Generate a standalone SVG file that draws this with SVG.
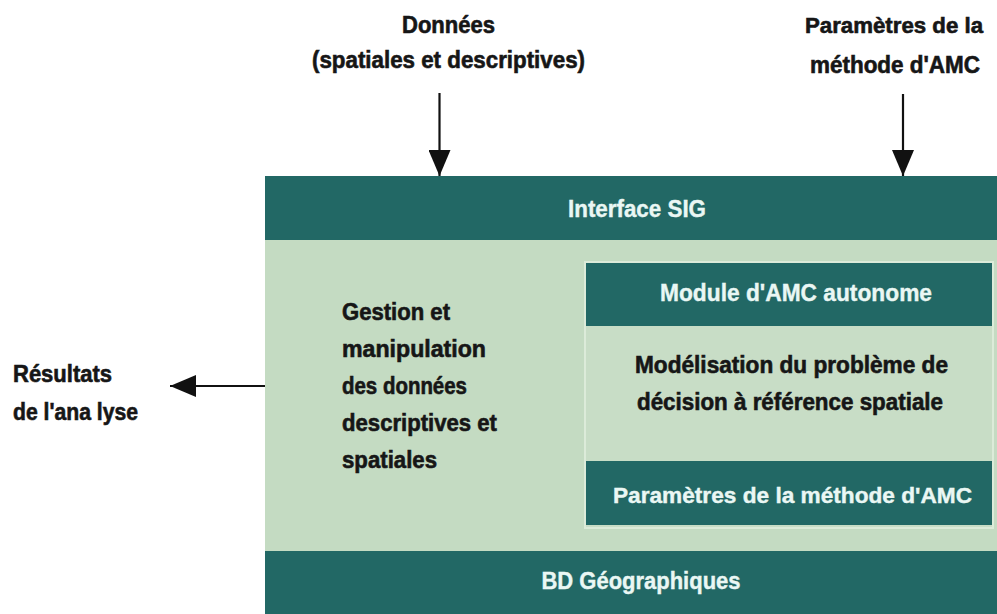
<svg xmlns="http://www.w3.org/2000/svg" width="997" height="614" viewBox="0 0 997 614">
  <style>
    .bar { fill: #226865; }
    .panel { fill: #c4dbc2; }
    .body { fill: #c8ddc6; stroke: #dcebd9; stroke-width: 2; }
    text { font-family: "Liberation Sans", Arial, sans-serif; font-weight: bold; font-size: 23px; paint-order: stroke; }
    .dark { fill: #161616; stroke: #161616; stroke-width: 0.6; }
    .light { fill: #eaf7f4; stroke: #eaf7f4; stroke-width: 0.4; font-size: 24px; }
    .tight { font-size: 22px; }
    .mid { text-anchor: middle; }
    .wire { stroke: #111; stroke-width: 2.2; fill: none; marker-end: url(#head); }
  </style>
  <defs>
    <marker id="head" viewBox="0 0 26 22" refX="26" refY="11" markerWidth="26" markerHeight="22" markerUnits="userSpaceOnUse" orient="auto">
      <path d="M0,0 L26,11 L0,22 Z" fill="#111"/>
    </marker>
  </defs>
  <rect width="997" height="614" fill="#ffffff"/>

  <!-- inputs and outputs -->
  <g id="donnees">
    <text class="dark mid" x="448.5" y="33" textLength="93" lengthAdjust="spacingAndGlyphs">Données</text>
    <text class="dark mid" x="448.5" y="68" textLength="273" lengthAdjust="spacingAndGlyphs">(spatiales et descriptives)</text>
  </g>
  <g id="parametres-entree">
    <text class="dark mid tight" x="894" y="33" textLength="178" lengthAdjust="spacingAndGlyphs">Paramètres de la</text>
    <text class="dark mid" x="895" y="73" textLength="170" lengthAdjust="spacingAndGlyphs">méthode d'AMC</text>
  </g>
  <g id="resultats">
    <text class="dark" x="13" y="382" textLength="99" lengthAdjust="spacingAndGlyphs">Résultats</text>
    <text class="dark" x="13" y="420" textLength="125" lengthAdjust="spacingAndGlyphs">de l'ana lyse</text>
  </g>

  <!-- system panel -->
  <g id="gestion">
    <rect class="panel" x="265" y="240" width="732" height="311"/>
    <text class="dark" x="342" y="320" textLength="108" lengthAdjust="spacingAndGlyphs">Gestion et</text>
    <text class="dark" x="342" y="357" textLength="144" lengthAdjust="spacingAndGlyphs">manipulation</text>
    <text class="dark" x="342" y="394" textLength="125" lengthAdjust="spacingAndGlyphs">des données</text>
    <text class="dark" x="342" y="431" textLength="155" lengthAdjust="spacingAndGlyphs">descriptives et</text>
    <text class="dark" x="342" y="468" textLength="95" lengthAdjust="spacingAndGlyphs">spatiales</text>
  </g>
  <g id="interface-sig">
    <rect class="bar" x="265" y="176" width="732" height="64"/>
    <text class="light mid" x="637" y="217" textLength="138" lengthAdjust="spacingAndGlyphs">Interface SIG</text>
  </g>
  <g id="module-amc">
    <rect class="body" x="585" y="262" width="408" height="266"/>
    <rect class="bar" x="586" y="263" width="406" height="63"/>
    <text class="light mid" x="796" y="301" textLength="272" lengthAdjust="spacingAndGlyphs">Module d'AMC autonome</text>
    <text class="dark mid" x="791.5" y="373" textLength="313" lengthAdjust="spacingAndGlyphs">Modélisation du problème de</text>
    <text class="dark mid" x="790" y="410" textLength="306" lengthAdjust="spacingAndGlyphs">décision à référence spatiale</text>
    <rect class="bar" x="586" y="461" width="406" height="64"/>
    <text class="light mid tight" x="792.5" y="503" textLength="359" lengthAdjust="spacingAndGlyphs">Paramètres de la méthode d'AMC</text>
  </g>
  <g id="bd-geographiques">
    <rect class="bar" x="265" y="551" width="732" height="63"/>
    <text class="light mid" x="641" y="589" textLength="199" lengthAdjust="spacingAndGlyphs">BD Géographiques</text>
  </g>

  <!-- connectors -->
  <g id="connectors">
    <line class="wire" x1="439.5" y1="93" x2="439.5" y2="176"/>
    <line class="wire" x1="903" y1="94" x2="903" y2="176"/>
    <line class="wire" x1="265" y1="386" x2="170" y2="386"/>
  </g>
</svg>
